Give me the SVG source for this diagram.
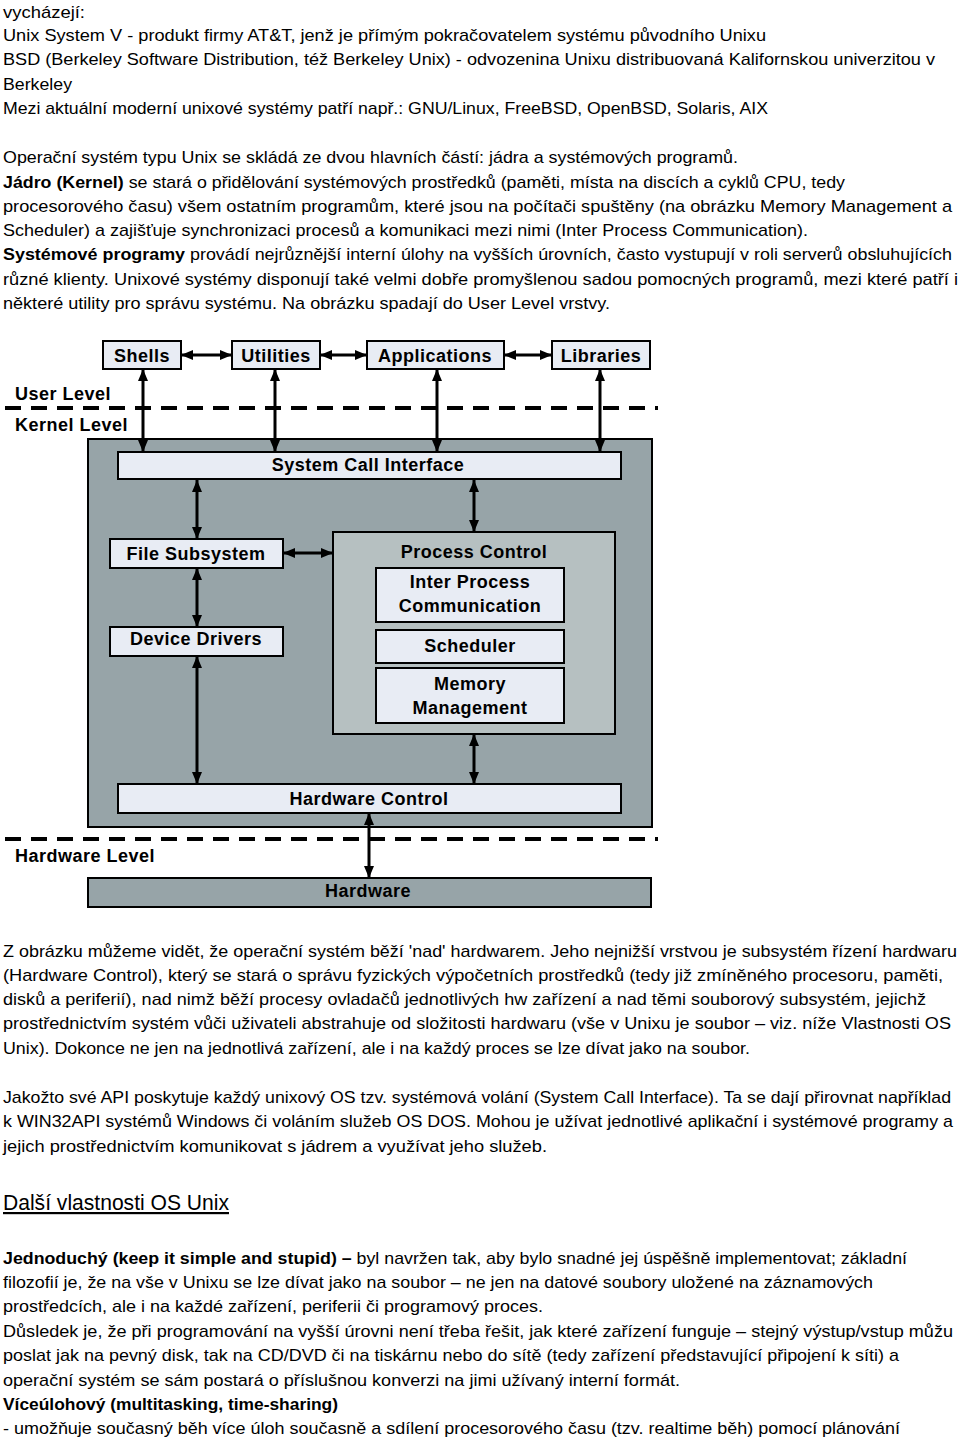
<svg xmlns="http://www.w3.org/2000/svg" width="960" height="1440" viewBox="0 0 960 1440">
<style>
.t{font-family:"Liberation Sans",Arial,sans-serif;font-size:17px;fill:#000}
.b{font-weight:bold}
.h{font-family:"Liberation Sans",Arial,sans-serif;font-size:22px;fill:#000;text-decoration:underline}
.lbl{font-family:"Liberation Sans",Arial,sans-serif;font-size:18px;font-weight:bold;fill:#000;text-anchor:middle;letter-spacing:0.5px}
.lvl{font-family:"Liberation Sans",Arial,sans-serif;font-size:18px;font-weight:bold;fill:#000;letter-spacing:0.5px}
.lt{fill:#e8ecf4;stroke:#000;stroke-width:2}
.gr{fill:#97a4a8;stroke:#000;stroke-width:2}
.pc{fill:#b6c0c1;stroke:#000;stroke-width:2}
.dash{stroke:#000;stroke-width:4;stroke-dasharray:16 10;fill:none}
.c{stroke:#000;stroke-width:3;fill:none;marker-start:url(#ah);marker-end:url(#ah)}
</style>
<defs>
<marker id="ah" viewBox="0 0 12 10" refX="12" refY="5" markerWidth="12" markerHeight="10" markerUnits="userSpaceOnUse" orient="auto-start-reverse">
<path d="M0,0 L12,5 L0,10 z" fill="#000"/>
</marker>
</defs>
<rect width="960" height="1440" fill="#fff"/>

<g id="text-top">
<text class="t" x="3" y="18" textLength="82" lengthAdjust="spacingAndGlyphs">vycházejí:</text>
<text class="t" x="3" y="41" textLength="763" lengthAdjust="spacingAndGlyphs">Unix System V - produkt firmy AT&amp;T, jenž je přímým pokračovatelem systému původního Unixu</text>
<text class="t" x="3" y="65" textLength="932" lengthAdjust="spacingAndGlyphs">BSD (Berkeley Software Distribution, též Berkeley Unix) - odvozenina Unixu distribuovaná Kalifornskou univerzitou v</text>
<text class="t" x="3" y="90" textLength="69" lengthAdjust="spacingAndGlyphs">Berkeley</text>
<text class="t" x="3" y="114" textLength="765" lengthAdjust="spacingAndGlyphs">Mezi aktuální moderní unixové systémy patří např.: GNU/Linux, FreeBSD, OpenBSD, Solaris, AIX</text>
<text class="t" x="3" y="163" textLength="735" lengthAdjust="spacingAndGlyphs">Operační systém typu Unix se skládá ze dvou hlavních částí: jádra a systémových programů.</text>
<text class="t" x="3" y="188" textLength="842" lengthAdjust="spacingAndGlyphs"><tspan class="b">Jádro (Kernel)</tspan> se stará o přidělování systémových prostředků (paměti, místa na discích a cyklů CPU, tedy</text>
<text class="t" x="3" y="212" textLength="949" lengthAdjust="spacingAndGlyphs">procesorového času) všem ostatním programům, které jsou na počítači spuštěny (na obrázku Memory Management a</text>
<text class="t" x="3" y="236" textLength="805" lengthAdjust="spacingAndGlyphs">Scheduler) a zajišťuje synchronizaci procesů a komunikaci mezi nimi (Inter Process Communication).</text>
<text class="t" x="3" y="260" textLength="949" lengthAdjust="spacingAndGlyphs"><tspan class="b">Systémové programy</tspan> provádí nejrůznější interní úlohy na vyšších úrovních, často vystupují v roli serverů obsluhujících</text>
<text class="t" x="3" y="285" textLength="955" lengthAdjust="spacingAndGlyphs">různé klienty. Unixové systémy disponují také velmi dobře promyšlenou sadou pomocných programů, mezi které patří i</text>
<text class="t" x="3" y="309" textLength="607" lengthAdjust="spacingAndGlyphs">některé utility pro správu systému. Na obrázku spadají do User Level vrstvy.</text>
</g>

<g id="levels">
<line class="dash" x1="5" y1="408" x2="658" y2="408"/>
<line class="dash" x1="5" y1="839" x2="658" y2="839"/>
<text class="lvl" x="15" y="400">User Level</text>
<text class="lvl" x="15" y="431">Kernel Level</text>
<text class="lvl" x="15" y="862">Hardware Level</text>
</g>

<g id="kernel"><rect class="gr" x="88" y="439" width="564" height="388"/></g>

<g id="shells"><rect class="lt" x="103" y="341" width="78" height="28"/><text class="lbl" x="142" y="362">Shells</text></g>
<g id="utilities"><rect class="lt" x="232" y="341" width="88" height="28"/><text class="lbl" x="276" y="362">Utilities</text></g>
<g id="applications"><rect class="lt" x="367" y="341" width="137" height="28"/><text class="lbl" x="435" y="362">Applications</text></g>
<g id="libraries"><rect class="lt" x="552" y="341" width="98" height="28"/><text class="lbl" x="601" y="362">Libraries</text></g>

<g id="sci"><rect class="lt" x="118" y="452" width="503" height="27"/><text class="lbl" x="368" y="471">System Call Interface</text></g>
<g id="filesub"><rect class="lt" x="110" y="539" width="173" height="29"/><text class="lbl" x="196" y="560">File Subsystem</text></g>
<g id="devdrv"><rect class="lt" x="110" y="627" width="173" height="29"/><text class="lbl" x="196" y="645">Device Drivers</text></g>
<g id="proc"><rect class="pc" x="333" y="532" width="282" height="202"/><text class="lbl" x="474" y="558">Process Control</text></g>
<g id="ipc"><rect class="lt" x="376" y="568" width="188" height="54"/><text class="lbl" x="470" y="588">Inter Process</text><text class="lbl" x="470" y="612">Communication</text></g>
<g id="sched"><rect class="lt" x="376" y="630" width="188" height="33"/><text class="lbl" x="470" y="652">Scheduler</text></g>
<g id="mem"><rect class="lt" x="376" y="668" width="188" height="55"/><text class="lbl" x="470" y="690">Memory</text><text class="lbl" x="470" y="714">Management</text></g>
<g id="hwctl"><rect class="lt" x="118" y="784" width="503" height="29"/><text class="lbl" x="369" y="805">Hardware Control</text></g>
<g id="hw"><rect class="gr" x="88" y="878" width="563" height="29"/><text class="lbl" x="368" y="897">Hardware</text></g>

<g id="connectors">
<line class="c" x1="181" y1="355" x2="232" y2="355"/>
<line class="c" x1="320" y1="355" x2="367" y2="355"/>
<line class="c" x1="504" y1="355" x2="552" y2="355"/>
<line class="c" x1="143" y1="369" x2="143" y2="452"/>
<line class="c" x1="275" y1="369" x2="275" y2="452"/>
<line class="c" x1="437" y1="369" x2="437" y2="452"/>
<line class="c" x1="600" y1="369" x2="600" y2="452"/>
<line class="c" x1="197" y1="480" x2="197" y2="539"/>
<line class="c" x1="474" y1="480" x2="474" y2="532"/>
<line class="c" x1="283" y1="553" x2="333" y2="553"/>
<line class="c" x1="197" y1="568" x2="197" y2="627"/>
<line class="c" x1="197" y1="656" x2="197" y2="784"/>
<line class="c" x1="474" y1="734" x2="474" y2="784"/>
<line class="c" x1="369" y1="813" x2="369" y2="878"/>
</g>

<g id="text-bottom">
<text class="t" x="3" y="957" textLength="954" lengthAdjust="spacingAndGlyphs">Z obrázku můžeme vidět, že operační systém běží 'nad' hardwarem. Jeho nejnižší vrstvou je subsystém řízení hardwaru</text>
<text class="t" x="3" y="981" textLength="940" lengthAdjust="spacingAndGlyphs">(Hardware Control), který se stará o správu fyzických výpočetních prostředků (tedy již zmíněného procesoru, paměti,</text>
<text class="t" x="3" y="1005" textLength="923" lengthAdjust="spacingAndGlyphs">disků a periferií), nad nimž běží procesy ovladačů jednotlivých hw zařízení a nad těmi souborový subsystém, jejichž</text>
<text class="t" x="3" y="1029" textLength="948" lengthAdjust="spacingAndGlyphs">prostřednictvím systém vůči uživateli abstrahuje od složitosti hardwaru (vše v Unixu je soubor – viz. níže Vlastnosti OS</text>
<text class="t" x="3" y="1054" textLength="747" lengthAdjust="spacingAndGlyphs">Unix). Dokonce ne jen na jednotlivá zařízení, ale i na každý proces se lze dívat jako na soubor.</text>
<text class="t" x="3" y="1103" textLength="948" lengthAdjust="spacingAndGlyphs">Jakožto své API poskytuje každý unixový OS tzv. systémová volání (System Call Interface). Ta se dají přirovnat například</text>
<text class="t" x="3" y="1127" textLength="950" lengthAdjust="spacingAndGlyphs">k WIN32API systémů Windows či voláním služeb OS DOS. Mohou je užívat jednotlivé aplikační i systémové programy a</text>
<text class="t" x="3" y="1152" textLength="544" lengthAdjust="spacingAndGlyphs">jejich prostřednictvím komunikovat s jádrem a využívat jeho služeb.</text>
<text class="h" x="3" y="1210" textLength="226" lengthAdjust="spacingAndGlyphs">Další vlastnosti OS Unix</text>
<text class="t" x="3" y="1264" textLength="904" lengthAdjust="spacingAndGlyphs"><tspan class="b">Jednoduchý (keep it simple and stupid) –</tspan> byl navržen tak, aby bylo snadné jej úspěšně implementovat; základní</text>
<text class="t" x="3" y="1288" textLength="870" lengthAdjust="spacingAndGlyphs">filozofií je, že na vše v Unixu se lze dívat jako na soubor – ne jen na datové soubory uložené na záznamových</text>
<text class="t" x="3" y="1312" textLength="540" lengthAdjust="spacingAndGlyphs">prostředcích, ale i na každé zařízení, periferii či programový proces.</text>
<text class="t" x="3" y="1337" textLength="950" lengthAdjust="spacingAndGlyphs">Důsledek je, že při programování na vyšší úrovni není třeba řešit, jak které zařízení funguje – stejný výstup/vstup můžu</text>
<text class="t" x="3" y="1361" textLength="896" lengthAdjust="spacingAndGlyphs">poslat jak na pevný disk, tak na CD/DVD či na tiskárnu nebo do sítě (tedy zařízení představující připojení k síti) a</text>
<text class="t" x="3" y="1386" textLength="677" lengthAdjust="spacingAndGlyphs">operační systém se sám postará o příslušnou konverzi na jimi užívaný interní formát.</text>
<text class="t b" x="3" y="1410" textLength="335" lengthAdjust="spacingAndGlyphs">Víceúlohový (multitasking, time-sharing)</text>
<text class="t" x="3" y="1434" textLength="897" lengthAdjust="spacingAndGlyphs">- umožňuje současný běh více úloh současně a sdílení procesorového času (tzv. realtime běh) pomocí plánování</text>
</g>
</svg>
